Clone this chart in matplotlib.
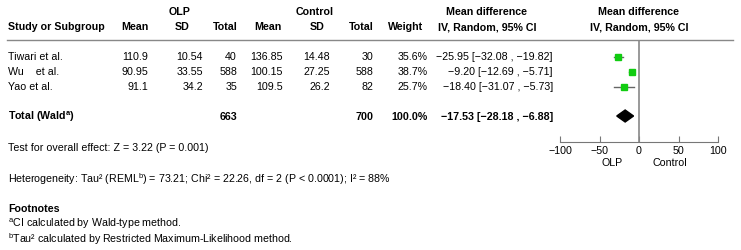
import matplotlib
matplotlib.use('Agg')
import matplotlib.pyplot as plt
import numpy as np

plt.rcParams['font.family'] = ['Liberation Sans', 'DejaVu Sans']
plt.rcParams['mathtext.fontset'] = 'custom'
plt.rcParams['mathtext.rm'] = 'Liberation Sans'
plt.rcParams['mathtext.bf'] = 'Liberation Sans:bold'

# data
studies = ['Tiwari et al.', 'Wu    et al.', 'Yao et al.']
olp_mean = ['110.9', '90.95', '91.1']
olp_sd = ['10.54', '33.55', '34.2']
olp_n = [40, 588, 35]
ctl_mean = ['136.85', '100.15', '109.5']
ctl_sd = ['14.48', '27.25', '26.2']
ctl_n = [30, 588, 82]
weight = [35.6, 38.7, 25.7]
md = [-25.95, -9.20, -18.40]
ci_lo = [-32.08, -12.69, -31.07]
ci_hi = [-19.82, -5.71, -5.73]
tot_md = -17.53
tot_lo = -28.18
tot_hi = -6.88
xticks = [-100, -50, 0, 50, 100]

W, H = 741, 251
fs = 7.7
fig = plt.figure(figsize=(W / 100, H / 100), dpi=100)
ax = fig.add_axes([0, 0, 1, 1])
ax.set_xlim(0, W)
ax.set_ylim(H, 0)
ax.axis('off')

def fmt(v):
    return ('%.2f' % v).replace('-', '\u2212')

# headers
ax.text(180, 12, 'OLP', ha='center', va='center', fontsize=fs, fontweight='bold')
ax.text(315, 12, 'Control', ha='center', va='center', fontsize=fs, fontweight='bold')
ax.text(487, 12, 'Mean difference', ha='center', va='center', fontsize=fs, fontweight='bold')
ax.text(639, 12, 'Mean difference', ha='center', va='center', fontsize=fs, fontweight='bold')
hdr = [(8, 'Study or Subgroup', 'left'), (135, 'Mean', 'center'), (182, 'SD', 'center'),
       (225, 'Total', 'center'), (268, 'Mean', 'center'), (317, 'SD', 'center'),
       (361, 'Total', 'center'), (406, 'Weight', 'center'),
       (487, 'IV, Random, 95% CI', 'center'), (639, 'IV, Random, 95% CI', 'center')]
for x, s, ha in hdr:
    ax.text(x, 27, s, ha=ha, va='center', fontsize=fs, fontweight='bold')

ax.plot([7, 733], [41, 41], color='#888888', lw=1)

# study rows
rows_y = [57.5, 72.5, 87.5]
for i, y in enumerate(rows_y):
    ax.text(8, y, studies[i], ha='left', va='center', fontsize=fs)
    cols = [(148, olp_mean[i]), (203, olp_sd[i]), (237, str(olp_n[i])),
            (283, ctl_mean[i]), (330, ctl_sd[i]), (373, str(ctl_n[i])),
            (428, '%.1f%%' % weight[i]),
            (553, '%s [%s , %s]' % (fmt(md[i]), fmt(ci_lo[i]), fmt(ci_hi[i])))]
    for x, s in cols:
        ax.text(x, y, s, ha='right', va='center', fontsize=fs)

# total row
ty = 117
ax.text(8, ty, r'Total (Wald$^{\mathbf{a}}$)', ha='left', va='center', fontsize=fs, fontweight='bold')
ax.text(237, ty, str(sum(olp_n)), ha='right', va='center', fontsize=fs, fontweight='bold')
ax.text(373, ty, str(sum(ctl_n)), ha='right', va='center', fontsize=fs, fontweight='bold')
ax.text(428, ty, '%.1f%%' % sum(weight), ha='right', va='center', fontsize=fs, fontweight='bold')
ax.text(553, ty, '%s [%s , %s]' % (fmt(tot_md), fmt(tot_lo), fmt(tot_hi)),
        ha='right', va='center', fontsize=fs, fontweight='bold')

# bottom notes
ax.text(8, 148, 'Test for overall effect: Z = 3.22 (P = 0.001)', ha='left', va='center', fontsize=fs)
ax.text(8, 179, r'Heterogeneity: Tau² (REML$^{\mathrm{b}}$) = 73.21; Chi² = 22.26, df = 2 (P < 0.0001); I² = 88%',
        ha='left', va='center', fontsize=fs)
ax.text(8, 209, 'Footnotes', ha='left', va='center', fontsize=fs, fontweight='bold')
ax.text(8, 224, r'$^{\mathrm{a}}$CI calculated by Wald-type method.', ha='left', va='center', fontsize=fs)
ax.text(8, 239, r'$^{\mathrm{b}}$Tau² calculated by Restricted Maximum-Likelihood method.',
        ha='left', va='center', fontsize=fs)

# forest panel
fx0, fx1 = 560, 718
fy0, fy1 = 41, 143
fa = fig.add_axes([fx0 / W, 1 - fy1 / H, (fx1 - fx0) / W, (fy1 - fy0) / H])
fa.set_xlim(-100, 100)
fa.set_ylim(fy1, fy0)
fa.patch.set_alpha(0)
for s in ['top', 'right', 'left']:
    fa.spines[s].set_visible(False)
fa.spines['bottom'].set_color('#777777')
fa.set_yticks([])
fa.set_xticks(xticks)
fa.set_xticklabels([str(t).replace('-', '\u2212') for t in xticks])
fa.tick_params(axis='x', direction='in', length=4, color='#777777', labelsize=fs, pad=2)
fa.axvline(0, color='#888888', lw=1.2)

for i, y in enumerate(rows_y):
    fa.plot([ci_lo[i], ci_hi[i]], [y, y], color='#666666', lw=1)
    fa.plot(md[i], y, 's', color='#11cc11', mec='#11cc11', ms=np.sqrt(weight[i]) * 0.78)

fa.fill([tot_lo, tot_md, tot_hi, tot_md], [ty, ty - 6, ty, ty + 6], color='black', zorder=3)

ax.text(612, 163, 'OLP', ha='center', va='center', fontsize=fs)
ax.text(670, 163, 'Control', ha='center', va='center', fontsize=fs)

fig.savefig('out.png', dpi=100)
